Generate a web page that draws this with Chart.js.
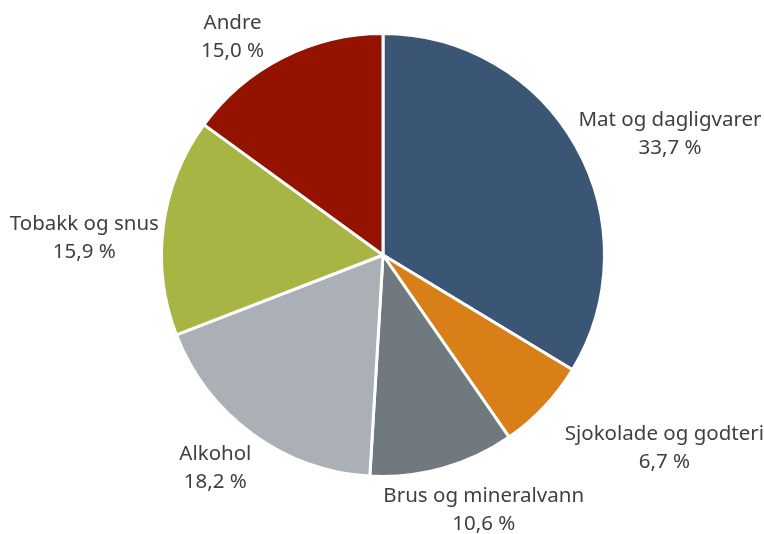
<!DOCTYPE html>
<html>
<head>
<meta charset="utf-8">
<script src="https://cdn.jsdelivr.net/npm/chart.js@4/dist/chart.umd.min.js"></script>
<style>
    html, body { margin: 0; padding: 0; background: #fff; }
    #wrap { width: 764px; height: 534px; }
</style>
</head>
<body>
<div id="wrap"><canvas id="pieChart" width="764" height="534"></canvas></div>
<script>
// data
const categories = ['Mat og dagligvarer', 'Sjokolade og godteri', 'Brus og mineralvann', 'Alkohol', 'Tobakk og snus', 'Andre'];
const shares = [33.7, 6.7, 10.6, 18.2, 15.9, 15.0];
const sliceColors = ['#3b5675', '#d97f17', '#707880', '#aab0b6', '#a8b443', '#931200'];

// where each label block sits, relative to the slice's rim midpoint
const labelOffsets = [[94, -12], [120, 41], [41, 42], [-37, 34], [-79, 12], [-50, -20]];

const fmt = v => v.toFixed(1).replace('.', ',') + ' %';

const outsideLabels = {
    id: 'outsideLabels',
    afterDatasetsDraw(chart) {
        const ctx = chart.ctx;
        const meta = chart.getDatasetMeta(0);
        ctx.save();
        ctx.font = '20.5px "Noto Sans", "Open Sans", sans-serif';
        ctx.fillStyle = '#404040';
        ctx.textAlign = 'center';
        ctx.textBaseline = 'middle';
        meta.data.forEach((arc, i) => {
            const p = arc.getProps(['x', 'y', 'startAngle', 'endAngle', 'outerRadius'], true);
            const mid = (p.startAngle + p.endAngle) / 2;
            const x = p.x + Math.cos(mid) * p.outerRadius + labelOffsets[i][0];
            const y = p.y + Math.sin(mid) * p.outerRadius + labelOffsets[i][1];
            ctx.fillText(categories[i], x, y - 14);
            ctx.fillText(fmt(shares[i]), x, y + 14);
        });
        ctx.restore();
    }
};

const ctx = document.getElementById('pieChart').getContext('2d');
const pieChart = new Chart(ctx, {
    type: 'pie',
    data: {
        labels: categories,
        datasets: [{
            data: shares,
            backgroundColor: sliceColors,
            borderColor: '#ffffff',
            borderWidth: 3
        }]
    },
    options: {
        responsive: false,
        animation: false,
        layout: {
            padding: { top: 32, bottom: 56, left: 2, right: 0 }
        },
        plugins: {
            legend: { display: false },
            tooltip: { enabled: false }
        }
    },
    plugins: [outsideLabels]
});
</script>
</body>
</html>
